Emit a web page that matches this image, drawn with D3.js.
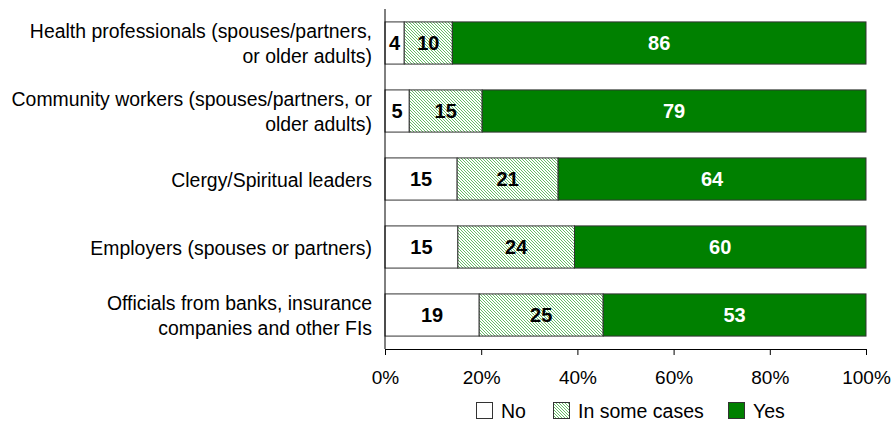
<!DOCTYPE html>
<html>
<head>
<meta charset="utf-8">
<script src="https://cdn.jsdelivr.net/npm/d3@7/dist/d3.min.js"></script>
<style>
  html, body { margin: 0; padding: 0; background: #fff; }
  svg { display: block; font-family: "Liberation Sans", Arial, sans-serif; }
</style>
</head>
<body>
<svg id="chart" width="895" height="423"></svg>
<script>
// Respondent groups, top to bottom (label lines as drawn)
const categories = [
  ["Health professionals (spouses/partners,", "or older adults)"],
  ["Community workers (spouses/partners, or", "older adults)"],
  ["Clergy/Spiritual leaders"],
  ["Employers (spouses or partners)"],
  ["Officials from banks, insurance", "companies and other FIs"]
];
const seriesNames = ["No", "In some cases", "Yes"];
const noValues = [4, 5, 15, 15, 19];
const someValues = [10, 15, 21, 24, 25];
const yesValues = [86, 79, 64, 60, 53];
const tickLabels = ["0%", "20%", "40%", "60%", "80%", "100%"];

const svg = d3.select("#chart");
const margin = { left: 385, right: 29, top: 9, bottom: 74 };
const W = 895, H = 423;

// Fine diagonal hatch for "In some cases"
const defs = svg.append("defs");
const pat = defs.append("pattern")
  .attr("id", "hatch").attr("patternUnits", "userSpaceOnUse")
  .attr("width", 3).attr("height", 3);
pat.append("rect").attr("width", 3).attr("height", 3).attr("fill", "#ffffff");
pat.append("path").attr("d", "M-1,-1 L4,4 M-1,2 L1,4 M2,-1 L4,1")
  .attr("stroke", "#66bd66").attr("stroke-width", 1);

const rows = categories.map((c, i) => {
  const total = noValues[i] + someValues[i] + yesValues[i];
  return { idx: i, lines: c, vals: [noValues[i], someValues[i], yesValues[i]], total };
});

const x = d3.scaleLinear().domain([0, 1]).range([margin.left, W - margin.right]);
const y = d3.scaleBand().domain(d3.range(categories.length))
  .range([margin.top, H - margin.bottom]).paddingInner(0.38).paddingOuter(0.19);

const fills = ["#ffffff", "url(#hatch)", "#008000"];
const labelColors = ["#000000", "#000000", "#ffffff"];

// Stacked segments, normalised to each row's total
rows.forEach(r => {
  let acc = 0;
  r.vals.forEach((v, k) => {
    const x0 = x(acc / r.total), x1 = x((acc + v) / r.total);
    acc += v;
    svg.append("rect")
      .attr("x", x0).attr("y", y(r.idx))
      .attr("width", x1 - x0).attr("height", y.bandwidth())
      .attr("fill", fills[k]).attr("stroke", "#333").attr("stroke-width", 1);
    svg.append("text")
      .attr("x", (x0 + x1) / 2).attr("y", y(r.idx) + y.bandwidth() / 2)
      .attr("dy", "0.34em").attr("text-anchor", "middle")
      .attr("font-weight", "bold").attr("font-size", 20)
      .attr("fill", labelColors[k]).text(v);
  });
});

// Category labels (slightly condensed)
const sx = 0.925;
rows.forEach(r => {
  const cy = y(r.idx) + y.bandwidth() / 2;
  const lh = 25;
  const startY = cy - (r.lines.length - 1) * lh / 2;
  const t = svg.append("text").attr("text-anchor", "end")
    .attr("transform", `translate(${margin.left - 13},0) scale(${sx},1)`)
    .attr("font-size", 21).attr("fill", "#000");
  r.lines.forEach((ln, j) => {
    t.append("tspan").attr("x", 0)
      .attr("y", startY + j * lh).attr("dy", "0.36em").text(ln);
  });
});

// X axis
const axisY = H - margin.bottom;
const xAxis = d3.axisBottom(x).tickValues(d3.range(0, 1.01, 0.2))
  .tickFormat((d, i) => tickLabels[i]).tickSizeInner(6).tickSizeOuter(0).tickPadding(16);
const gx = svg.append("g").attr("transform", `translate(0,${axisY})`).call(xAxis);
gx.select(".domain").attr("stroke", "#000");
gx.selectAll(".tick line").attr("stroke", "#000");
gx.selectAll(".tick text").attr("font-size", 19).attr("font-family", null).attr("fill", "#000");

// Y axis line
svg.append("line").attr("x1", margin.left).attr("x2", margin.left)
  .attr("y1", margin.top).attr("y2", axisY).attr("stroke", "#000");

// Legend
const legendItems = [
  { name: seriesNames[0], fill: fills[0], x: 476 },
  { name: seriesNames[1], fill: fills[1], x: 553 },
  { name: seriesNames[2], fill: fills[2], x: 728 }
];
const lg = svg.append("g").attr("transform", "translate(0,402)");
legendItems.forEach(it => {
  lg.append("rect").attr("x", it.x + 0.5).attr("y", 0.5).attr("width", 16).attr("height", 16)
    .attr("fill", it.fill).attr("stroke", "#333");
  lg.append("text").attr("x", it.x + 25).attr("y", 8.5).attr("dy", "0.36em")
    .attr("font-size", 19.5).attr("fill", "#000").text(it.name);
});
</script>
</body>
</html>
